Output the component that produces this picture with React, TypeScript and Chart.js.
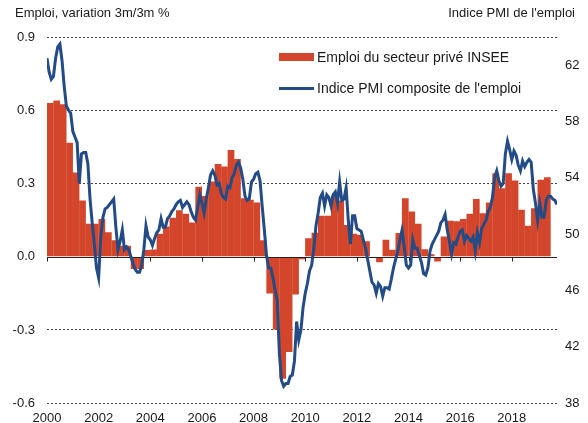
import React, { useEffect, useRef } from 'react';
import { Chart, registerables } from 'chart.js';

Chart.register(...registerables);

// ---- Data ----
// INSEE private-sector employment, q/q % (3m/3m), quarterly from 2000 Q1
const EMPLOI_FIRST_YEAR = 2000;
const emploiQuarterly = [
  0.63, 0.64, 0.625, 0.467,
  0.345, 0.23, 0.135, 0.135,
  0.155, 0.10, 0.067, 0.045,
  0.045, -0.05, -0.05, 0.028,
  0.03, 0.094, 0.124, 0.16,
  0.19, 0.176, 0.14, 0.287,
  0.249, 0.308, 0.38, 0.37,
  0.437, 0.40, 0.24, 0.233,
  0.222, 0.067, -0.151, -0.298,
  -0.50, -0.39, -0.155, -0.01,
  0.076, 0.098, 0.168, 0.168,
  0.25, 0.23, 0.13, 0.094,
  0.09, 0.063, -0.005, -0.023,
  0.069, 0.029, 0.097, 0.24,
  0.185, 0.135, 0.031, 0.01,
  -0.02, 0.083, 0.147, 0.145,
  0.154, 0.176, 0.236, 0.178,
  0.222, 0.342, 0.28, 0.342,
  0.312, 0.192, 0.127, 0.199,
  0.315, 0.326,
];

// Composite PMI employment index, monthly from January 2000
const PMI_FIRST_YEAR = 2000;
const pmiMonthly = [
  62.5, 61.5, 61.0, 61.2, 62.5, 63.3, 63.5, 62.3, 60.5, 59.1, 58.8, 58.6,
  57.3, 56.9, 56.5, 53.6, 55.7, 55.8, 55.8, 55.0, 52.5, 50.8, 49.3, 47.6,
  46.9, 49.8, 51.2, 51.8, 51.9, 52.1, 52.3, 52.5, 50.5, 48.9, 49.5, 50.3,
  48.9, 49.1, 48.9, 48.4, 47.9, 47.5, 47.3, 47.3, 47.8, 48.9, 50.6, 49.8,
  49.6, 49.2, 49.7, 50.1, 50.3, 51.1, 50.5, 50.5, 51.1, 51.3, 51.6, 51.8,
  52.1, 52.3, 52.4, 51.9, 52.1, 52.3, 52.1, 51.6, 51.2, 51.0, 51.9, 52.8,
  52.2, 51.5, 52.5, 53.3, 54.2, 54.5, 54.2, 53.5, 53.6, 52.9, 52.6, 52.5,
  53.4, 53.3, 54.0, 54.3, 54.9, 55.1, 54.7, 53.9, 52.7, 52.4, 52.5, 53.7,
  53.9, 54.3, 54.4, 53.8, 52.0, 50.3, 48.5, 47.6, 47.6, 46.9, 46.0, 45.3,
  41.5, 39.6, 39.2, 39.4, 39.4, 39.9, 40.0, 41.0, 43.8, 42.5, 43.2, 44.8,
  45.8, 46.5, 47.4, 47.8, 49.0, 50.6, 51.5, 52.6, 52.9, 52.0, 52.8, 52.6,
  52.0, 52.8, 53.0, 52.2, 53.7, 52.4, 52.5, 53.3, 51.0, 49.3, 51.3, 51.3,
  50.4, 50.3, 50.2, 49.6, 49.0, 48.2, 47.4, 46.6, 46.4, 45.8, 46.5, 46.3,
  45.6, 46.2, 46.2, 46.1, 46.8, 47.6, 48.2, 48.8, 49.6, 50.3, 49.1, 47.8,
  47.6, 47.8, 49.6, 49.0, 49.0, 48.5, 48.0, 47.2, 47.1, 47.6, 48.8, 49.3,
  49.6, 49.9, 50.2, 50.8, 51.0, 51.4, 50.3, 49.5, 48.6, 49.4, 49.3, 49.8,
  50.2, 50.3, 49.5, 49.9, 49.7, 49.5, 49.8, 48.8, 50.1, 49.4, 50.4, 50.7,
  51.0, 51.6, 51.9, 52.6, 54.0, 54.5, 53.8, 53.4, 53.6, 55.7, 56.6, 56.0,
  55.3, 55.9, 55.6, 54.9, 54.5, 55.2, 54.8, 55.1, 55.3, 55.1, 53.2, 52.2,
  51.0, 52.2, 51.2, 51.2, 52.4, 52.7, 52.7, 52.5, 52.4, 52.1,
];

const X_TICKS = [2000, 2002, 2004, 2006, 2008, 2010, 2012, 2014, 2016, 2018];
const LEFT_TICKS = [-0.6, -0.3, 0, 0.3, 0.6, 0.9];
const RIGHT_TICKS = [38, 42, 46, 50, 54, 58, 62];

const LABEL_EMPLOI = 'Emploi du secteur privé INSEE';
const LABEL_PMI = "Indice PMI composite de l'emploi";
const TITLE_LEFT = 'Emploi, variation 3m/3m %';
const TITLE_RIGHT = "Indice PMI de l'emploi";

const RED = '#d3462b';
const BLUE = '#234b85';
const TEXT = '#1a1a1a';
const FONT_FAMILY = '"Liberation Sans", Arial, Helvetica, sans-serif';

const zeroLinePlugin = {
  id: 'zeroLine',
  afterDatasetDraw(chart: any, args: any) {
    if (args.meta.type !== 'bar') return;
    const { ctx, chartArea, scales } = chart;
    const y = Math.round(scales.y.getPixelForValue(0)) + 0.5;
    ctx.save();
    ctx.strokeStyle = '#222';
    ctx.lineWidth = 1;
    ctx.beginPath();
    ctx.moveTo(chartArea.left, y);
    ctx.lineTo(chartArea.right, y);
    for (const t of scales.x.ticks) {
      const x = Math.round(scales.x.getPixelForValue(t.value)) + 0.5;
      ctx.moveTo(x, y);
      ctx.lineTo(x, y + 4);
    }
    ctx.stroke();
    ctx.restore();
  },
};

export default function App() {
  const canvasRef = useRef<HTMLCanvasElement | null>(null);

  useEffect(() => {
    if (!canvasRef.current) return;
    const barData = emploiQuarterly.map((v, i) => ({
      x: EMPLOI_FIRST_YEAR + i * 0.25 + 0.125,
      y: v,
    }));
    const lineData = pmiMonthly.map((v, i) => ({ x: PMI_FIRST_YEAR + i / 12, y: v }));
    const xMax = PMI_FIRST_YEAR + (pmiMonthly.length - 1) / 12;

    const tickFont = { family: FONT_FAMILY, size: 13 };

    const chart = new Chart(canvasRef.current, {
      type: 'bar',
      data: {
        datasets: [
          {
            type: 'bar',
            label: LABEL_EMPLOI,
            data: barData as any,
            backgroundColor: RED,
            borderWidth: 0,
            barPercentage: 1.04,
            categoryPercentage: 1,
            xAxisID: 'x',
            yAxisID: 'y',
            order: 1,
          },
          {
            type: 'line',
            label: LABEL_PMI,
            data: lineData as any,
            borderColor: BLUE,
            borderWidth: 3,
            pointRadius: 0,
            tension: 0,
            fill: false,
            xAxisID: 'x',
            yAxisID: 'y1',
            order: 0,
          } as any,
        ],
      },
      options: {
        responsive: false,
        animation: false,
        layout: { padding: { top: 37, left: 0, right: 0, bottom: 0 } },
        plugins: {
          legend: { display: false },
          tooltip: { enabled: false },
          title: { display: false },
        },
        scales: {
          x: {
            type: 'linear',
            min: EMPLOI_FIRST_YEAR,
            max: xMax,
            offset: false,
            grid: { display: false, drawTicks: false },
            border: { display: false },
            afterBuildTicks: (scale: any) => {
              scale.ticks = X_TICKS.map((v) => ({ value: v }));
            },
            afterFit: (scale: any) => {
              scale.height = 19;
            },
            ticks: {
              color: TEXT,
              font: tickFont,
              padding: 7,
              maxRotation: 0,
              autoSkip: false,
              callback: (v: any) => String(v),
            },
          },
          y: {
            type: 'linear',
            position: 'left',
            min: -0.6,
            max: 0.9,
            grid: {
              drawTicks: false,
              color: (ctx: any) =>
                ctx.tick && Math.abs(ctx.tick.value) < 1e-9 ? 'rgba(0,0,0,0)' : '#444',
              lineWidth: 1,
            },
            border: { display: false, dash: [2, 2] },
            afterBuildTicks: (scale: any) => {
              scale.ticks = LEFT_TICKS.map((v) => ({ value: v }));
            },
            afterFit: (scale: any) => {
              scale.width = 47;
            },
            ticks: {
              color: TEXT,
              font: tickFont,
              padding: 12,
              callback: (v: any) => Number(v).toFixed(1),
            },
          },
          y1: {
            type: 'linear',
            position: 'right',
            min: 38,
            max: 64,
            grid: { display: false, drawTicks: false },
            border: { display: false },
            afterBuildTicks: (scale: any) => {
              scale.ticks = RIGHT_TICKS.map((v) => ({ value: v }));
            },
            afterFit: (scale: any) => {
              scale.width = 31;
            },
            ticks: {
              color: TEXT,
              font: tickFont,
              padding: 8,
              callback: (v: any) => String(v),
            },
          },
        },
      } as any,
      plugins: [zeroLinePlugin],
    });
    return () => chart.destroy();
  }, []);

  const textStyle: React.CSSProperties = {
    fontFamily: FONT_FAMILY,
    color: TEXT,
    whiteSpace: 'nowrap',
  };

  return (
    <div style={{ position: 'relative', width: 588, height: 423, background: '#fff' }}>
      <style>{`body{margin:0;background:#fff}`}</style>
      <canvas ref={canvasRef} width={588} height={423} style={{ display: 'block' }} />
      <div style={{ ...textStyle, position: 'absolute', left: 15, top: 5, fontSize: 13, lineHeight: '16px' }}>
        {TITLE_LEFT}
      </div>
      <div style={{ ...textStyle, position: 'absolute', right: 13, top: 5, fontSize: 13, lineHeight: '16px' }}>
        {TITLE_RIGHT}
      </div>
      <div style={{ ...textStyle, position: 'absolute', left: 279, top: 47, fontSize: 14 }}>
        <div style={{ display: 'flex', alignItems: 'center', height: 20 }}>
          <span style={{ display: 'inline-block', width: 35, height: 8, background: RED, marginRight: 3 }} />
          <span>{LABEL_EMPLOI}</span>
        </div>
        <div style={{ display: 'flex', alignItems: 'center', height: 20, marginTop: 11 }}>
          <span style={{ display: 'inline-block', width: 35, height: 3, background: BLUE, marginRight: 3 }} />
          <span>{LABEL_PMI}</span>
        </div>
      </div>
    </div>
  );
}
